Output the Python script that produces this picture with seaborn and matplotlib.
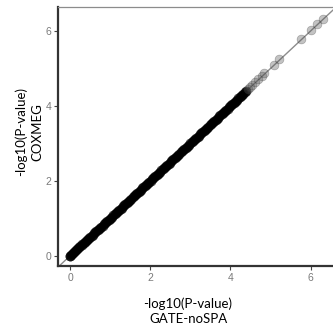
import numpy as np
import pandas as pd
import matplotlib
matplotlib.use("Agg")
import matplotlib.pyplot as plt
import seaborn as sns

# -log10(P-value)
gate_nospa = [0.00, 0.01, 0.03, 0.05, 0.07, 0.10, 0.12, 0.15, 0.18, 0.20, 0.23, 0.26, 0.29, 0.31, 0.34,
              0.37, 0.40, 0.43, 0.46, 0.48, 0.51, 0.54, 0.57, 0.60, 0.63, 0.66, 0.69, 0.72, 0.75, 0.78,
              0.81, 0.84, 0.87, 0.90, 0.93, 0.96, 0.99, 1.02, 1.05, 1.08, 1.11, 1.14, 1.17, 1.20, 1.23,
              1.26, 1.29, 1.32, 1.35, 1.38, 1.41, 1.44, 1.47, 1.50, 1.53, 1.56, 1.59, 1.62, 1.65, 1.68,
              1.71, 1.74, 1.77, 1.80, 1.83, 1.86, 1.89, 1.92, 1.95, 1.98, 2.01, 2.04, 2.07, 2.10, 2.13,
              2.16, 2.19, 2.22, 2.25, 2.28, 2.31, 2.34, 2.37, 2.40, 2.43, 2.46, 2.49, 2.52, 2.55, 2.58,
              2.61, 2.64, 2.67, 2.70, 2.73, 2.76, 2.79, 2.82, 2.85, 2.88, 2.91, 2.94, 2.97, 3.00, 3.03,
              3.06, 3.09, 3.12, 3.15, 3.18, 3.21, 3.24, 3.27, 3.30, 3.33, 3.36, 3.39, 3.42, 3.45, 3.48,
              3.51, 3.54, 3.57, 3.60, 3.63, 3.66, 3.69, 3.72, 3.75, 3.78, 3.81, 3.84, 3.87, 3.90, 3.93,
              3.96, 3.99, 4.02, 4.05, 4.08, 4.11, 4.14, 4.17, 4.20, 4.23, 4.26, 4.29, 4.32, 4.36, 4.40,
              4.44, 4.49, 4.55, 4.62, 4.70, 4.78, 4.85, 5.08, 5.21, 5.75, 6.00, 6.17, 6.30]
coxmeg = [0.00, 0.01, 0.03, 0.05, 0.08, 0.10, 0.13, 0.15, 0.18, 0.21, 0.23, 0.26, 0.29, 0.32, 0.34,
          0.37, 0.40, 0.43, 0.46, 0.49, 0.51, 0.54, 0.57, 0.60, 0.63, 0.66, 0.69, 0.72, 0.75, 0.78,
          0.81, 0.84, 0.87, 0.90, 0.93, 0.96, 0.99, 1.02, 1.05, 1.08, 1.11, 1.14, 1.17, 1.20, 1.23,
          1.26, 1.29, 1.32, 1.35, 1.38, 1.41, 1.44, 1.47, 1.50, 1.53, 1.56, 1.59, 1.62, 1.65, 1.68,
          1.71, 1.74, 1.77, 1.80, 1.83, 1.86, 1.89, 1.92, 1.95, 1.98, 2.01, 2.04, 2.07, 2.10, 2.13,
          2.16, 2.19, 2.22, 2.25, 2.28, 2.31, 2.34, 2.37, 2.40, 2.43, 2.46, 2.49, 2.52, 2.55, 2.58,
          2.61, 2.64, 2.67, 2.70, 2.73, 2.76, 2.79, 2.82, 2.85, 2.88, 2.91, 2.94, 2.97, 3.00, 3.03,
          3.06, 3.09, 3.12, 3.15, 3.18, 3.21, 3.24, 3.27, 3.30, 3.33, 3.36, 3.39, 3.42, 3.45, 3.48,
          3.51, 3.54, 3.57, 3.60, 3.63, 3.66, 3.69, 3.72, 3.75, 3.78, 3.81, 3.84, 3.87, 3.90, 3.93,
          3.96, 3.99, 4.02, 4.05, 4.08, 4.11, 4.14, 4.17, 4.20, 4.23, 4.26, 4.29, 4.32, 4.36, 4.40,
          4.44, 4.50, 4.56, 4.63, 4.71, 4.79, 4.87, 5.10, 5.24, 5.78, 6.03, 6.19, 6.33]
ticks = [0, 2, 4, 6]
x_title = "-log10(P-value)\nGATE-noSPA"
y_title = "-log10(P-value)\nCOXMEG"
dense_limit = 4.42  # beyond this the points are sparse and look light grey

df = pd.DataFrame({"gate": gate_nospa, "coxmeg": coxmeg})
dense = df[df["gate"] <= dense_limit]
sparse = df[df["gate"] > dense_limit]

sns.set_style("white")
plt.rcParams["font.family"] = ["Liberation Sans", "DejaVu Sans"]

fig = plt.figure(figsize=(3.33, 3.36), dpi=100)
ax = fig.add_axes([58 / 333, 1 - 266 / 336, 1 - 58 / 333 + 0.002, (266 - 7) / 336])

ax.axline((0, 0), slope=1, color="#8c8c8c", lw=1.0, zorder=1)
sns.scatterplot(data=dense, x="gate", y="coxmeg", ax=ax, s=50, color="black",
                alpha=0.7, linewidth=0, zorder=2, legend=False)
sns.scatterplot(data=sparse, x="gate", y="coxmeg", ax=ax, s=40, color="#555555",
                alpha=0.35, edgecolor="#333333", linewidth=0.5, zorder=2, legend=False)

ax.set_xlim(-0.3, 6.575)
ax.set_ylim(-0.27, 6.64)
ax.set_xticks(ticks)
ax.set_yticks(ticks)
ax.set_xticklabels([str(t) for t in ticks])
ax.set_yticklabels([str(t) for t in ticks])
ax.tick_params(axis="both", length=3, width=0.8, color="#444444", labelcolor="#7a7a7a",
               labelsize=7.5, pad=2, bottom=True, left=True)
ax.set_xlabel("")
ax.set_ylabel("")

for side in ["left", "bottom"]:
    ax.spines[side].set_color("#333333")
    ax.spines[side].set_linewidth(1.6)
ax.spines["top"].set_color("#8c8c8c")
ax.spines["top"].set_linewidth(0.9)
ax.spines["right"].set_visible(False)

fig.text(188 / 333, 1 - 311 / 336, x_title, ha="center", va="center", fontsize=9.5,
         family=["Lato", "DejaVu Sans"], color="black", linespacing=1.35)
fig.text(29 / 333, 1 - 132 / 336, y_title, ha="center", va="center", rotation=90,
         fontsize=9.5, family=["Lato", "DejaVu Sans"], color="black", linespacing=1.35)

fig.savefig("out.png", dpi=100)
